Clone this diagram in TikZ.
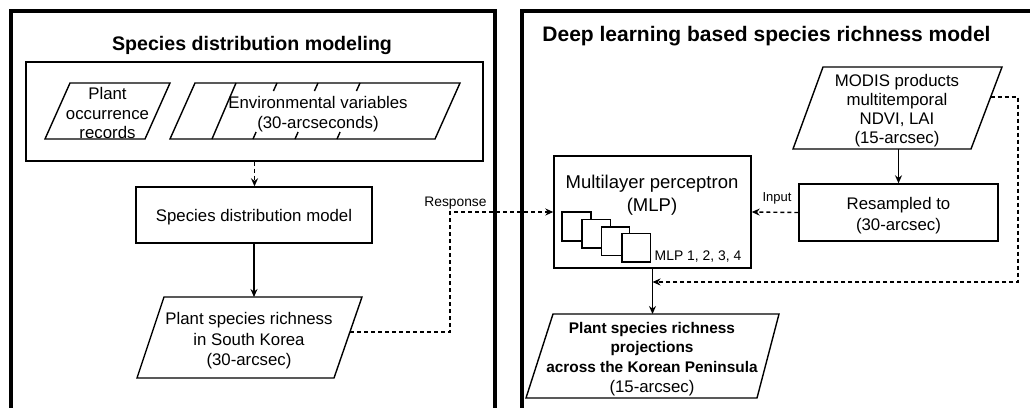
\documentclass[tikz,border=0pt]{standalone}
\usepackage{fontspec}
\setmainfont{Liberation Sans}
\usetikzlibrary{arrows.meta}
\begin{document}
\begin{tikzpicture}[x=1pt,y=-1pt,
  ln/.style={line width=1.4pt},
  box/.style={draw,line width=1.4pt,inner sep=0pt},
  dsh/.style={dash pattern=on 4pt off 3pt},
  arr/.style={-{Stealth[length=8pt,width=7pt]}},
  panel/.style={line width=4.7pt},
  txt/.style={font=\fontsize{16.8}{20}\selectfont,align=center,inner sep=0pt},
  small/.style={font=\fontsize{13.8}{16}\selectfont,inner sep=0pt},
  ttl/.style={font=\bfseries\fontsize{19.6}{23}\selectfont,inner sep=0pt,anchor=base}]
\useasboundingbox (0,0) rectangle (1030,407);
\fill[white] (0,0) rectangle (1030,407);

% ---------- panels ----------
\draw[panel] (11,430) -- (11,11) -- (495,11) -- (495,430);
\draw[panel] (522,430) -- (522,11) -- (1045,11);

% ---------- left panel ----------
\node[ttl] (t1) at (252,50) {Species distribution modeling};
\node[box,minimum width=457pt,minimum height=99pt] (envbox) at (254.5,111.5) {};
\draw[ln] (70,83) -- (170,83) -- (145,139) -- (45,139) -- cycle;
\node[txt,font=\fontsize{16.8}{19.5}\selectfont] (occ) at (107.5,113) {Plant\\occurrence\\records};
\draw[ln] (195,83) -- (460,83) -- (435,139) -- (170,139) -- cycle;
\draw[ln] (236,83) -- (212,139);
\foreach \x in {277,318,360} \draw[ln] (\x,83) -- ({\x-3.6},91);
\foreach \x in {253,295,337} \draw[ln] (\x,139) -- ({\x+3.1},132);
\node[txt] (env) at (318,114) {Environmental variables\\(30-arcseconds)};

\node[box,minimum width=236pt,minimum height=56pt] (sdm) at (254,215) {};
\node[txt] (sdmt) at (254,217) {Species distribution model};

\draw[ln] (164,297) -- (362,297) -- (334,378) -- (137,378) -- cycle;
\coordinate (psrT) at (254,297);
\coordinate (psrR) at (350,332);
\node[txt,font=\fontsize{16.8}{20.5}\selectfont] (psr) at (249,341) {Plant species richness\\in South Korea\\(30-arcsec)};

% ---------- right panel ----------
\node[ttl,font=\bfseries\fontsize{21}{25}\selectfont] (t2) at (766.5,41) {Deep learning based species richness model};

\draw[ln] (823,67) -- (1002,67) -- (971,149) -- (793,149) -- cycle;
\coordinate (modB) at (898.5,149);
\coordinate (modR) at (990.7,97);
\node[txt,font=\fontsize{16.8}{19}\selectfont] (modis) at (897,110.5) {MODIS products\\multitemporal\\NDVI, LAI\\(15-arcsec)};

\node[box,minimum width=199pt,minimum height=57pt] (res) at (898.5,212.5) {};
\node[txt,font=\fontsize{16.8}{21}\selectfont] (rest) at (898.5,216) {Resampled to\\(30-arcsec)};

\node[box,minimum width=197pt,minimum height=112pt] (mlp) at (652.5,212) {};
\node[txt,font=\fontsize{18.5}{23}\selectfont] (mlpt) at (652,195) {Multilayer perceptron\\(MLP)};
\draw[ln,fill=white] (562,212) rectangle (591,241);
\draw[ln,fill=white] (582,219.5) rectangle (610.5,248);
\draw[ln,fill=white] (601.5,227) rectangle (629.5,255.5);
\draw[ln,fill=white] (622,233.5) rectangle (650.5,262);
\node[small,font=\fontsize{13.9}{16}\selectfont] (mlpl) at (698,256.5) {MLP 1, 2, 3, 4};

\draw[ln] (553,314) -- (779,314) -- (757,398) -- (526,398) -- cycle;
\coordinate (finT) at (652.5,314);
\node[txt,font=\fontsize{15.4}{19.7}\selectfont] (fin) at (652,359) {\textbf{Plant species richness}\\\textbf{projections}\\\textbf{across the Korean Peninsula}\\{\fontsize{16.8}{19.7}\selectfont(15-arcsec)}};

% ---------- connectors ----------
\draw[ln,dsh,arr] (envbox.south) -- (envbox.south |- sdm.north);
\draw[ln,arr] (sdm.south) -- (psrT);
\coordinate (rsp) at (450,212);
\draw[ln,dsh,arr] (psrR) -| (rsp) -- (mlp.west);
\node[small] (resp) at (455.5,203) {Response};

\draw[ln,arr] (modB) -- (modB |- res.north);
\draw[ln,dsh,arr] (res.west) -- (mlp.east);
\node[small,font=\fontsize{13}{15}\selectfont] (inp) at (777,198) {Input};
\coordinate (corner) at (1018,282);
\draw[ln,dsh,arr] (modR) -- (modR -| corner) -- (corner) -- (corner -| mlp.south);
\draw[ln,arr] (mlp.south) -- (finT);
\end{tikzpicture}
\end{document}
